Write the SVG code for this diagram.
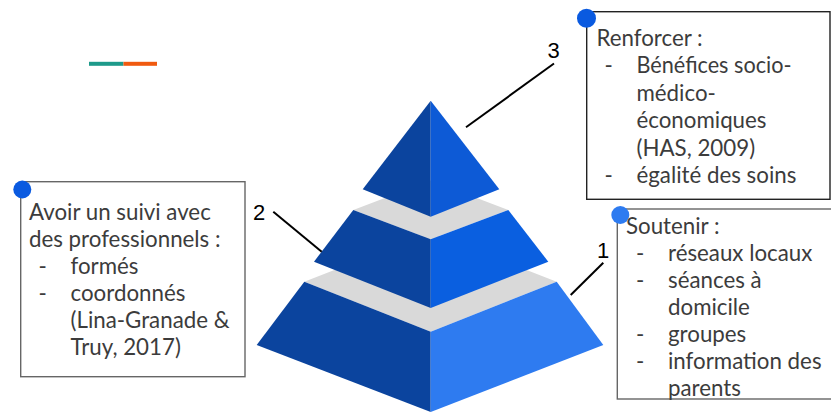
<svg xmlns="http://www.w3.org/2000/svg" width="831" height="412" viewBox="0 0 831 412">
<style>
.t{font-family:Lato,"Open Sans","Liberation Sans",sans-serif;font-size:22.3px;fill:#3c3c3c}
.n{font-family:"Liberation Sans",Arial,sans-serif;font-size:22px;fill:#000}
.box{fill:#fff;stroke-width:1.4}
.dk{fill:#0b449e}
.gr{fill:#d9d9d9}
.cn{stroke:#000;stroke-width:2;fill:none}
</style>
<rect width="831" height="412" fill="#fff"/>
<g id="accent">
<rect x="89" y="61.8" width="34.5" height="4" fill="#1d9a8a"/>
<rect x="123.5" y="61.8" width="33.5" height="4" fill="#f05a0f"/>
</g>
<g id="pyramid">
<g id="tier1">
<polygon class="gr" points="304.3,281.7 430.7,232.4 556.7,281.7 430.7,331.7"/>
<polygon class="dk" points="304.3,281.7 430.7,331.7 430.7,412 256.7,345"/>
<polygon fill="#2e7bf0" points="430.7,331.7 556.7,281.7 603.3,345 430.7,412"/>
</g>
<g id="tier2">
<polygon class="gr" points="353.3,210 430.7,180.5 508.3,210 430.7,239.3"/>
<polygon class="dk" points="353.3,210 430.7,239.3 430.7,308 314,261.7"/>
<polygon fill="#0a5fe0" points="430.7,239.3 508.3,210 548.3,261.7 430.7,308"/>
</g>
<g id="tier3">
<polygon class="dk" points="430.7,100.7 430.7,216.7 362.7,189.3"/>
<polygon fill="#0d5ad6" points="430.7,100.7 499.3,189.3 430.7,216.7"/>
</g>
</g>
<g id="connectors">
<line class="cn" x1="554" y1="63.5" x2="466" y2="127.3"/>
<line class="cn" x1="273.3" y1="211.7" x2="321.7" y2="251.7"/>
<line class="cn" x1="603.3" y1="262.7" x2="570.7" y2="295"/>
</g>
<g id="labels">
<text class="n" x="547.5" y="58.3">3</text>
<text class="n" x="253" y="220">2</text>
<text class="n" x="597" y="257.5">1</text>
</g>
<g id="box3">
<rect class="box" x="586.7" y="11.7" width="243.3" height="187.6" stroke="#222"/>
<circle cx="586.5" cy="18.3" r="9.5" fill="#0a5ae0"/>
<text class="t" x="596.5" y="45.5">Renforcer :</text>
<text class="t" x="604.5" y="73">-</text>
<text class="t" x="636.5" y="73" textLength="155" lengthAdjust="spacingAndGlyphs">Bénéfices socio-</text>
<text class="t" x="636.5" y="100.5">médico-</text>
<text class="t" x="636.5" y="128">économiques</text>
<text class="t" x="636.5" y="155.5">(HAS, 2009)</text>
<text class="t" x="604.5" y="183">-</text>
<text class="t" x="636.5" y="183">égalité des soins</text>
</g>
<g id="box2">
<rect class="box" x="20.7" y="181.7" width="224.3" height="195" stroke="#666"/>
<circle cx="22.3" cy="189.5" r="9" fill="#0a5ae0"/>
<text class="t" x="29" y="220">Avoir un suivi avec</text>
<text class="t" x="29" y="247">des professionnels :</text>
<text class="t" x="38.5" y="274">-</text>
<text class="t" x="70.5" y="274">formés</text>
<text class="t" x="38.5" y="301">-</text>
<text class="t" x="70.5" y="301">coordonnés</text>
<text class="t" x="70.5" y="328">(Lina-Granade &amp;</text>
<text class="t" x="70.5" y="355">Truy, 2017)</text>
</g>
<g id="box1">
<rect class="box" x="617.3" y="209" width="220" height="190" stroke="#666"/>
<circle cx="620.3" cy="215" r="9" fill="#2e7bf0"/>
<text class="t" x="626" y="233.5">Soutenir :</text>
<text class="t" x="636" y="260.5">-</text>
<text class="t" x="668" y="260.5">réseaux locaux</text>
<text class="t" x="636" y="287.5">-</text>
<text class="t" x="668" y="287.5">séances à</text>
<text class="t" x="668" y="314.5">domicile</text>
<text class="t" x="636" y="341.5">-</text>
<text class="t" x="668" y="341.5">groupes</text>
<text class="t" x="636" y="368.5">-</text>
<text class="t" x="668" y="368.5">information des</text>
<text class="t" x="668" y="395.5">parents</text>
</g>
</svg>
